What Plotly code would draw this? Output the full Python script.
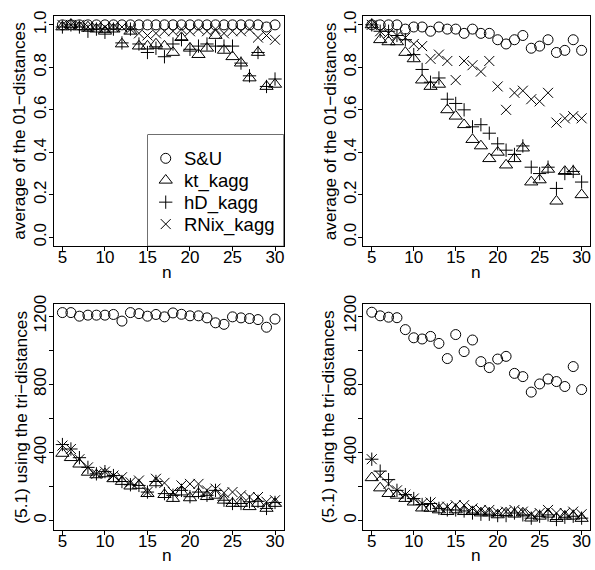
import plotly.graph_objects as go

W, H = 595, 570

n = list(range(5, 31))

# average of the 01-distances, left panel
su_a = [1.0, 1.0, 1.0, 1.0, 1.0, 1.0, 1.0, 1.0, 1.0, 1.0, 1.0, 1.0, 1.0,
        1.0, 1.0, 1.0, 1.0, 1.0, 1.0, 1.0, 1.0, 1.0, 1.0, 1.0, 0.99, 1.0]
kt_a = [0.99, 1.0, 0.99, 0.99, 0.98, 0.97, 0.98, 0.91, 0.97, 0.90, 0.90, 0.91, 0.90,
        0.87, 0.94, 0.89, 0.86, 0.89, 0.95, 0.88, 0.85, 0.82, 0.75, 0.87, 0.71, 0.72]
hd_a = [0.99, 1.0, 0.99, 0.97, 0.98, 0.965, 0.98, 0.915, 0.98, 0.91, 0.87, 0.89, 0.85,
        0.91, 0.93, 0.885, 0.90, 0.91, 0.90, 0.90, 0.90, 0.82, 0.76, 0.87, 0.71, 0.745]
rn_a = [1.0, 1.0, 1.0, 0.99, 0.99, 0.99, 0.99, 0.99, 0.98, 0.96, 0.95, 0.96, 0.97,
        0.97, 0.98, 0.97, 0.98, 0.97, 0.98, 0.96, 0.97, 0.97, 0.98, 0.94, 0.95, 0.93]

# average of the 01-distances, right panel
su_b = [1.0, 1.0, 1.0, 1.0, 0.98, 0.99, 0.99, 0.97, 0.99, 0.98, 0.98, 0.96, 0.98,
        0.96, 0.96, 0.93, 0.91, 0.93, 0.95, 0.89, 0.90, 0.93, 0.87, 0.88, 0.93, 0.88]
kt_b = [1.0, 0.93, 0.92, 0.92, 0.87, 0.84, 0.74, 0.71, 0.72, 0.60, 0.57, 0.53, 0.46,
        0.43, 0.37, 0.40, 0.34, 0.37, 0.42, 0.26, 0.27, 0.32, 0.17, 0.31, 0.31, 0.20]
hd_b = [1.0, 0.97, 0.97, 0.95, 0.93, 0.86, 0.79, 0.73, 0.75, 0.65, 0.63, 0.60, 0.52,
        0.53, 0.49, 0.44, 0.41, 0.39, 0.43, 0.33, 0.30, 0.33, 0.23, 0.30, 0.31, 0.26]
rn_b = [1.0, 0.97, 0.96, 0.95, 0.94, 0.91, 0.90, 0.84, 0.86, 0.83, 0.74, 0.83, 0.81,
        0.78, 0.83, 0.71, 0.60, 0.68, 0.69, 0.65, 0.64, 0.68, 0.54, 0.56, 0.57, 0.56]

# (5.1) using the tri-distances, left panel
su_c = [1221, 1221, 1200, 1206, 1206, 1206, 1210, 1171, 1221, 1215, 1200, 1210, 1196,
        1219, 1211, 1202, 1202, 1190, 1161, 1152, 1196, 1190, 1186, 1180, 1135, 1183]
kt_c = [394, 369, 331, 283, 268, 274, 245, 229, 202, 206, 158, 221, 152,
        129, 167, 133, 158, 140, 148, 119, 100, 100, 81, 100, 71, 100]
hd_c = [446, 420, 369, 312, 274, 287, 264, 229, 210, 206, 167, 229, 158,
        148, 177, 140, 167, 148, 177, 119, 100, 100, 110, 113, 71, 106]
rn_c = [440, 420, 360, 312, 274, 287, 264, 254, 225, 235, 167, 245, 221,
        167, 206, 215, 215, 177, 187, 163, 167, 148, 138, 138, 110, 119]

# (5.1) using the tri-distances, right panel
su_d = [1223, 1202, 1194, 1191, 1121, 1073, 1066, 1081, 1040, 951, 1092, 992, 1060,
        933, 898, 948, 964, 864, 845, 754, 802, 831, 816, 787, 904, 769]
kt_d = [251, 191, 158, 148, 129, 108, 73, 71, 62, 52, 62, 52, 52,
        44, 44, 33, 44, 37, 44, 14, 25, 37, 12, 25, 25, 12]
hd_d = [360, 290, 240, 177, 152, 129, 94, 100, 71, 62, 62, 56, 44,
        37, 37, 29, 29, 44, 33, 14, 25, 33, 6, 19, 25, 14]
rn_d = [360, 263, 215, 177, 152, 129, 100, 106, 81, 81, 90, 90, 71,
        62, 62, 48, 52, 62, 52, 37, 44, 62, 44, 44, 52, 37]

series_names = ["S&U", "kt_kagg", "hD_kagg", "RNix_kagg"]
x_ticks = [5, 10, 15, 20, 25, 30]
y01_ticks = [0.0, 0.2, 0.4, 0.6, 0.8, 1.0]
y01_text = ["0.0", "0.2", "0.4", "0.6", "0.8", "1.0"]
ytri_ticks = [0, 200, 400, 600, 800, 1000, 1200]
ytri_text = ["0", "", "400", "", "800", "", "1200"]
title_01 = "average of the 01\u2212distances"
title_tri = "(5.1) using the tri\u2212distances"

FONT = "Liberation Sans, Arial, sans-serif"
INK = "black"
TICK_SIZE = 17
TITLE_SIZE = 17.3
KEY_SIZE = 18.5

symbols = [
    dict(symbol="circle-open", size=10),
    dict(symbol="triangle-up-open", size=11.5),
    dict(symbol="cross-thin-open", size=9.5),
    dict(symbol="x-thin-open", size=10),
]


def px_x(p):
    return p / W


def px_y(p):
    return 1 - p / H


# panel boxes in pixels: (left, right, top, bottom)
boxes = [
    (54, 284, 7.5, 241),
    (364, 591, 7.5, 241),
    (54, 284, 300, 530),
    (364, 591, 300, 530),
]

panels = [
    (su_a, kt_a, hd_a, rn_a),
    (su_b, kt_b, hd_b, rn_b),
    (su_c, kt_c, hd_c, rn_c),
    (su_d, kt_d, hd_d, rn_d),
]

fig = go.Figure()

for i, (data, box) in enumerate(zip(panels, boxes)):
    k = "" if i == 0 else str(i + 1)
    for j, (vals, name) in enumerate(zip(data, series_names)):
        fig.add_trace(go.Scatter(
            x=n, y=vals, mode="markers", name=name,
            xaxis="x" + k, yaxis="y" + k, showlegend=False,
            marker=dict(symbol=symbols[j]["symbol"], size=symbols[j]["size"],
                        color=INK, line=dict(color=INK, width=1)),
        ))
    l, r, t, b = box
    common = dict(showline=True, mirror=True, linecolor=INK, linewidth=1,
                  ticks="outside", ticklen=4, tickcolor=INK, tickwidth=1,
                  showgrid=False, zeroline=False,
                  tickfont=dict(family=FONT, size=TICK_SIZE, color=INK))
    fig.update_layout(**{
        "xaxis" + k: dict(domain=[px_x(l), px_x(r)], range=[4, 31],
                          anchor="y" + k, tickvals=x_ticks,
                          ticklabelstandoff=-8, **common),
        "yaxis" + k: dict(domain=[px_y(b), px_y(t)],
                          range=[-0.04, 1.04] if i < 2 else [-54, 1273],
                          anchor="x" + k,
                          tickvals=y01_ticks if i < 2 else ytri_ticks,
                          ticktext=y01_text if i < 2 else ytri_text,
                          tickangle=-90, ticklabelstandoff=-4, **common),
    })

# key box inside the top-left panel, drawn on its own pixel-scaled axes
KEY_L, KEY_R, KEY_T, KEY_B = 148, 284, 128, 241
KEY_FIRST, KEY_STEP = 24, 22.3
KEY_SYM_DX, KEY_TXT_DX = 18, 34
fig.update_layout(
    xaxis5=dict(domain=[px_x(KEY_L), px_x(KEY_R)], range=[0, KEY_R - KEY_L],
                visible=False, fixedrange=True, anchor="y5"),
    yaxis5=dict(domain=[px_y(KEY_B), px_y(KEY_T)], range=[KEY_B - KEY_T, 0],
                visible=False, fixedrange=True, anchor="x5"),
)
ann = []
for j, name in enumerate(series_names):
    row = KEY_FIRST + KEY_STEP * j
    fig.add_trace(go.Scatter(
        x=[KEY_SYM_DX], y=[row], mode="markers", xaxis="x5", yaxis="y5",
        showlegend=False, hoverinfo="skip",
        marker=dict(symbol=symbols[j]["symbol"], size=symbols[j]["size"],
                    color=INK, line=dict(color=INK, width=1)),
    ))
    ann.append(dict(x=KEY_TXT_DX, y=row + 0.5, xref="x5", yref="y5", text=name,
                    showarrow=False, xanchor="left", yanchor="middle",
                    font=dict(family=FONT, size=KEY_SIZE, color=INK)))

# axis titles
ytitles = [(19, 124, title_01), (330, 124, title_01),
           (21, 415, title_tri), (328, 415, title_tri)]
for x, y, txt in ytitles:
    ann.append(dict(x=px_x(x), y=px_y(y), xref="paper", yref="paper",
                    text=txt, showarrow=False, textangle=-90,
                    xanchor="center", yanchor="middle",
                    font=dict(family=FONT, size=TITLE_SIZE, color=INK)))
for x, y in [(167, 268), (477, 268), (167, 556), (477, 556)]:
    ann.append(dict(x=px_x(x), y=px_y(y), xref="paper", yref="paper",
                    text="n", showarrow=False,
                    xanchor="center", yanchor="middle",
                    font=dict(family=FONT, size=TITLE_SIZE, color=INK)))

fig.update_layout(
    width=W, height=H,
    margin=dict(l=0, r=0, t=0, b=0),
    paper_bgcolor="white", plot_bgcolor="white",
    annotations=ann,
    shapes=[dict(type="rect", xref="paper", yref="paper",
                 x0=px_x(KEY_L), x1=px_x(KEY_R), y0=px_y(KEY_B), y1=px_y(KEY_T),
                 line=dict(color=INK, width=1), fillcolor="white", layer="below")],
    showlegend=False,
)

fig.write_html("out.html")
